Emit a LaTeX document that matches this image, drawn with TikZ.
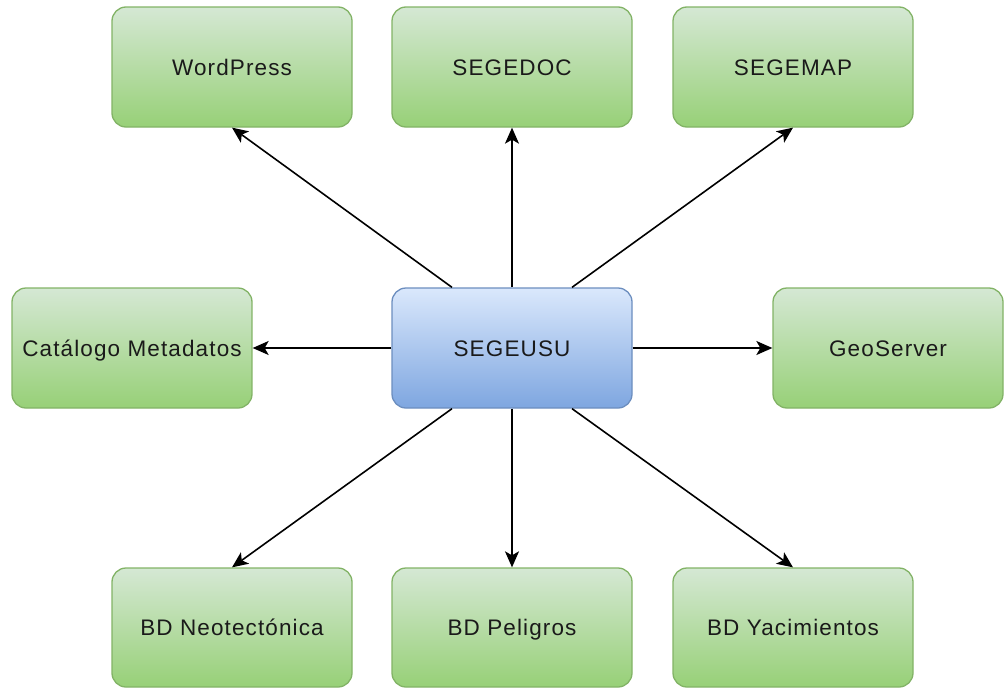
\documentclass[tikz,border=0pt]{standalone}
\usepackage{fontspec}
\setmainfont{Liberation Sans}
\newfontfamily\boxfont[LetterSpace=5]{Liberation Sans}
\usetikzlibrary{arrows.meta}
\definecolor{gtop}{HTML}{D5E8D4}
\definecolor{gbot}{HTML}{97D077}
\definecolor{gline}{HTML}{82B366}
\definecolor{btop}{HTML}{DAE8FC}
\definecolor{bbot}{HTML}{7EA6E0}
\definecolor{bline}{HTML}{6C8EBF}
\definecolor{txt}{HTML}{1A1A1A}
\tikzset{
  box/.style={rectangle, rounded corners=14pt, minimum width=240pt, minimum height=120pt,
    line width=1.3pt, text=txt, font=\boxfont\fontsize{22.5}{26}\selectfont, inner sep=0pt,
    text height=16.5pt, text depth=0pt},
  gbox/.style={box, draw=gline, top color=gtop, bottom color=gbot},
  bbox/.style={box, draw=bline, top color=btop, bottom color=bbot},
  conn/.style={line width=1.6pt, -{Stealth[length=16pt,width=14pt,inset=4pt]}}
}
\begin{document}
\begin{tikzpicture}[x=1pt,y=-1pt]
\useasboundingbox (0,0) rectangle (1004,688);
\node[gbox] (wp) at (232,67) {WordPress};
\node[gbox] (doc) at (512,67) {SEGEDOC};
\node[gbox] (map) at (793,67) {SEGEMAP};
\node[gbox] (cat) at (132,348) {Catálogo Metadatos};
\node[bbox] (usu) at (512,348) {SEGEUSU};
\node[gbox, minimum width=230pt] (geo) at (888,348) {GeoServer};
\node[gbox, minimum height=119pt] (neo) at (232,627.5) {BD Neotectónica};
\node[gbox, minimum height=119pt] (pel) at (512,627.5) {BD Peligros};
\node[gbox, minimum height=119pt] (yac) at (793,627.5) {BD Yacimientos};
\draw[conn] ([xshift=-60pt]usu.north) -- (wp.south);
\draw[conn] (usu.north) -- (doc.south);
\draw[conn] ([xshift=60pt]usu.north) -- (map.south);
\draw[conn] (usu.west) -- (cat.east);
\draw[conn] (usu.east) -- (geo.west);
\draw[conn] ([xshift=-60pt]usu.south) -- (neo.north);
\draw[conn] (usu.south) -- (pel.north);
\draw[conn] ([xshift=60pt]usu.south) -- (yac.north);
\end{tikzpicture}
\end{document}
